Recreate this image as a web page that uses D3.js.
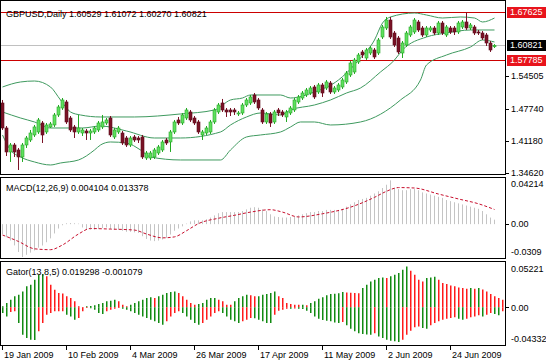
<!DOCTYPE html>
<html>
<head>
<meta charset="utf-8">
<script src="https://cdn.jsdelivr.net/npm/d3@7"></script>
<style>
  body { margin: 0; background: #fff; }
  text { font-family: "Liberation Sans", Arial, sans-serif; font-size: 9px; fill: #000; }
</style>
</head>
<body>
<div id="chart"></div>
<script>
var svgWidth = 546;
var svgHeight = 363;

// ---- data ----
var open = [1.4894,1.4379,1.3885,1.4029,1.3926,1.3782,1.4029,1.4132,1.4235,1.4297,
  1.4482,1.4297,1.4400,1.4441,1.4647,1.4791,1.4915,1.4585,1.4400,1.4297,
  1.4276,1.4317,1.4276,1.4297,1.4338,1.4400,1.4482,1.4585,1.4194,1.4297,
  1.4276,1.4173,1.4029,1.4194,1.4173,1.4194,1.3761,1.3761,1.3782,1.3864,
  1.3926,1.4132,1.4091,1.4297,1.4544,1.4482,1.4585,1.4709,1.4585,1.4503,
  1.4235,1.4276,1.4297,1.4503,1.4709,1.4894,1.4750,1.4750,1.4750,1.4668,
  1.4688,1.4853,1.4894,1.5059,1.4956,1.4750,1.4503,1.4668,1.4503,1.4750,
  1.4709,1.4606,1.4688,1.4750,1.4915,1.4997,1.5059,1.5100,1.5224,1.5121,
  1.5265,1.5203,1.5306,1.5121,1.5162,1.5224,1.5327,1.5471,1.5533,1.5739,
  1.5945,1.5821,1.5924,1.5986,1.5924,1.6254,1.6439,1.6604,1.6336,1.6233,
  1.5924,1.6089,1.6295,1.6357,1.6563,1.6439,1.6295,1.6398,1.6439,1.6336,
  1.6542,1.6295,1.6439,1.6439,1.6357,1.6460,1.6563,1.6439,1.6460,1.6357,
  1.6336,1.6295,1.6130,1.60529];
var high = [1.4956,1.4420,1.4070,1.4070,1.3967,1.4070,1.4214,1.4338,1.4441,1.4585,
  1.4523,1.4482,1.4503,1.4688,1.4853,1.4997,1.4956,1.4626,1.4441,1.4647,
  1.4379,1.4359,1.4359,1.4420,1.4523,1.4647,1.4585,1.4626,1.4379,1.4420,
  1.4317,1.4214,1.4214,1.4235,1.4214,1.4235,1.3905,1.3905,1.3967,1.4029,
  1.4132,1.4173,1.4338,1.4544,1.4606,1.4688,1.4791,1.4750,1.4626,1.4544,
  1.4338,1.4420,1.4544,1.4791,1.4894,1.4977,1.4791,1.4791,1.4791,1.4729,
  1.4894,1.4997,1.5059,1.5100,1.4997,1.4791,1.4709,1.4709,1.4750,1.4791,
  1.4750,1.4750,1.4832,1.4997,1.5059,1.5141,1.5203,1.5244,1.5265,1.5306,
  1.5306,1.5368,1.5347,1.5244,1.5306,1.5409,1.5553,1.5759,1.5821,1.5924,
  1.5986,1.6027,1.6068,1.6027,1.6233,1.6501,1.6666,1.6666,1.6377,1.6274,
  1.6171,1.6377,1.6501,1.6645,1.6604,1.6480,1.6480,1.6480,1.6480,1.6583,
  1.6583,1.6501,1.6480,1.6480,1.6583,1.6604,1.67625,1.6542,1.6501,1.6398,
  1.6377,1.6336,1.6171,1.61072];
var low = [1.4338,1.3802,1.3679,1.3782,1.3514,1.3679,1.3967,1.4091,1.4194,1.4256,
  1.4070,1.4256,1.4379,1.4400,1.4606,1.4750,1.4462,1.4297,1.4173,1.4256,
  1.4214,1.4132,1.4132,1.4256,1.4297,1.4359,1.4441,1.4194,1.4153,1.4256,
  1.4029,1.3988,1.3988,1.4091,1.4070,1.3741,1.3720,1.3720,1.3741,1.3823,
  1.3885,1.4029,1.3885,1.4256,1.4441,1.4441,1.4544,1.4503,1.4441,1.4256,
  1.4132,1.4235,1.4256,1.4462,1.4668,1.4709,1.4606,1.4626,1.4647,1.4626,
  1.4647,1.4812,1.4853,1.4874,1.4750,1.4462,1.4462,1.4400,1.4462,1.4626,
  1.4606,1.4503,1.4647,1.4709,1.4874,1.4956,1.5018,1.5059,1.4977,1.5080,
  1.5018,1.5162,1.5080,1.5080,1.5121,1.5183,1.5286,1.5430,1.5492,1.5698,
  1.5821,1.5780,1.5883,1.5801,1.5883,1.6213,1.6398,1.6213,1.6048,1.5904,
  1.5821,1.6048,1.6254,1.6316,1.6357,1.6254,1.6254,1.6357,1.6295,1.6295,
  1.6295,1.6254,1.6316,1.6295,1.6316,1.6419,1.6398,1.6398,1.6295,1.6295,
  1.6192,1.6068,1.5945,1.60270];
var close = [1.4379,1.3885,1.4029,1.3885,1.3782,1.4029,1.4173,1.4276,1.4400,1.4544,
  1.4235,1.4441,1.4462,1.4647,1.4812,1.4956,1.4503,1.4338,1.4297,1.4379,
  1.4338,1.4276,1.4317,1.4379,1.4482,1.4503,1.4544,1.4235,1.4338,1.4379,
  1.4070,1.4029,1.4173,1.4132,1.4132,1.3782,1.3864,1.3864,1.3926,1.3988,
  1.4091,1.4070,1.4297,1.4503,1.4482,1.4647,1.4750,1.4544,1.4482,1.4297,
  1.4297,1.4379,1.4503,1.4750,1.4853,1.4750,1.4709,1.4709,1.4709,1.4688,
  1.4853,1.4956,1.5018,1.4915,1.4791,1.4503,1.4668,1.4482,1.4709,1.4688,
  1.4647,1.4709,1.4791,1.4956,1.5018,1.5100,1.5162,1.5203,1.5018,1.5265,
  1.5100,1.5327,1.5121,1.5203,1.5265,1.5368,1.5512,1.5718,1.5780,1.5883,
  1.5883,1.5986,1.6027,1.5842,1.6192,1.6460,1.6604,1.6254,1.6089,1.5945,
  1.6130,1.6336,1.6460,1.6604,1.6398,1.6295,1.6439,1.6439,1.6336,1.6542,
  1.6336,1.6460,1.6357,1.6357,1.6542,1.6563,1.6439,1.6501,1.6336,1.6336,
  1.6233,1.6130,1.5986,1.60821];

// Bollinger bands, read at a few bar positions
var bbIdx    = [0, 4.5, 8, 12, 14.5, 17, 19.5, 24.5, 33, 44.5, 53, 57, 60, 62, 69.5, 72, 78, 84, 86, 89.5, 93, 95, 97, 103, 106, 110, 114.5, 118, 120, 123];
var bbUpper  = [1.5224,1.5327,1.5347,1.5224,1.4956,1.4709,1.4647,1.4606,1.4606,1.4668,1.4750,1.4956,1.4997,1.5059,1.5059,1.4997,1.5121,1.5368,1.5512,1.5821,1.6192,1.6542,1.6666,1.6748,1.6707,1.6645,1.6666,1.6645,1.6563,1.6645];
var bbMidIdx = [0, 4.5, 8, 12, 20, 24.5, 31, 38, 44.5, 54.5, 57, 61, 64.5, 69.5, 72, 78, 82, 86, 89.5, 94.5, 98, 100, 106, 111, 117, 123];
var bbMiddle = [1.4709,1.4585,1.4503,1.4379,1.4379,1.4420,1.4317,1.4173,1.4173,1.4297,1.4441,1.4606,1.4688,1.4647,1.4750,1.4853,1.4956,1.5100,1.5203,1.5533,1.5780,1.5986,1.6254,1.6336,1.6398,1.6398];
var bbLowIdx = [0, 2, 4.5, 8, 12, 14.5, 19, 23, 24.5, 27, 31, 34.5, 37, 44.5, 54.5, 57, 61, 64.5, 69.5, 72, 74.5, 78, 82, 89.5, 99.5, 104.5, 106, 111, 117, 120, 123];
var bbLower  = [1.4235,1.3926,1.3782,1.3679,1.3617,1.3658,1.3720,1.3926,1.4029,1.4091,1.4070,1.3926,1.3782,1.3720,1.3720,1.3926,1.4194,1.4235,1.4297,1.4400,1.4503,1.4503,1.4441,1.4503,1.4956,1.5368,1.5677,1.5883,1.6048,1.6192,1.6151];

var macdMain = [-0.0090,-0.0119,-0.0149,-0.0194,-0.0254,-0.0300,-0.0280,-0.0260,-0.0240,-0.0215,
  -0.0195,-0.0165,-0.0130,-0.0085,-0.0040,-0.0010,0.0008,0.0010,0.0008,0.0005,
  -0.0030,-0.0045,-0.0050,-0.0050,-0.0045,-0.0035,-0.0030,-0.0045,-0.0050,-0.0050,
  -0.0060,-0.0070,-0.0070,-0.0075,-0.0080,-0.0110,-0.0135,-0.0150,-0.0155,-0.0150,
  -0.0140,-0.0125,-0.0095,-0.0060,-0.0040,-0.0020,0.0005,0.0025,0.0035,0.0035,
  0.0035,0.0045,0.0060,0.0080,0.0100,0.0110,0.0110,0.0110,0.0110,0.0110,
  0.0120,0.0135,0.0150,0.0155,0.0150,0.0135,0.0120,0.0090,0.0070,0.0065,
  0.0060,0.0060,0.0065,0.0070,0.0080,0.0090,0.0100,0.0110,0.0110,0.0120,
  0.0120,0.0130,0.0130,0.0130,0.0130,0.0140,0.0160,0.0180,0.0200,0.0220,
  0.0230,0.0240,0.0260,0.0280,0.0300,0.0330,0.0360,0.0400,0.0330,0.0320,
  0.0310,0.0310,0.0320,0.0320,0.0310,0.0290,0.0280,0.0270,0.0260,0.0250,
  0.0240,0.0220,0.0210,0.0200,0.0190,0.0180,0.0170,0.0160,0.0150,0.0140,
  0.0120,0.0090,0.0060,0.004104];
var sigIdx = [0, 4, 8, 12, 15, 19, 22, 27, 33, 36, 40, 43, 46, 49, 54, 58, 62, 67, 70, 74, 80, 87, 93, 96, 99, 103, 109, 114, 119, 123];
var sigVal = [-0.0099,-0.0158,-0.0225,-0.0233,-0.0190,-0.0090,-0.0040,-0.0045,-0.0054,-0.0090,-0.0125,-0.0116,-0.0060,0.0005,0.0054,0.0081,0.0110,0.0132,0.0110,0.0066,0.0095,0.0155,0.0245,0.0300,0.0334,0.0330,0.0275,0.0230,0.0186,0.013378];

var gatorUp = [0.0012,0.0050,0.0088,0.0127,0.0146,0.0184,0.0242,0.0261,0.0319,0.0376,
  0.0380,0.0357,0.0261,0.0203,0.0165,0.0160,0.0127,0.0107,0.0069,0.0012,
  0.0004,0.0012,0.0015,0.0023,0.0038,0.0050,0.0069,0.0077,0.0088,0.0069,
  0.0031,0.0012,0.0031,0.0050,0.0069,0.0088,0.0107,0.0115,0.0107,0.0127,
  0.0146,0.0165,0.0176,0.0184,0.0165,0.0127,0.0088,0.0050,0.0031,0.0038,
  0.0050,0.0088,0.0107,0.0109,0.0088,0.0069,0.0031,0.0030,0.0069,0.0107,
  0.0127,0.0146,0.0138,0.0127,0.0128,0.0146,0.0153,0.0165,
  0.0184,0.0127,0.0107,0.0050,0.0038,0.0031,0.0030,0.0031,0.0023,0.0050,
  0.0069,0.0100,0.0115,0.0138,0.0153,0.0157,0.0161,0.0176,0.0172,0.0169,
  0.0165,0.0161,0.0222,0.0261,0.0299,0.0319,0.0338,0.0345,0.0338,0.0357,
  0.0376,0.0395,0.0434,0.0470,0.0422,0.0376,0.0319,0.0299,0.0338,0.0345,
  0.0353,0.0319,0.0280,0.0269,0.0253,0.0242,0.0230,0.0222,0.0215,0.0222,
  0.0215,0.0222,0.0207,0.0184,0.0153,0.0127,0.0107,0.0088];
var gatorDown = [-0.0065,-0.0104,-0.0054,-0.0046,-0.0180,-0.0315,-0.0353,-0.0372,-0.0375,-0.0276,
  -0.0180,-0.0084,-0.0065,-0.0046,-0.0045,-0.0044,-0.0084,-0.0104,-0.0142,-0.0123,
  -0.0046,-0.0008,-0.0009,-0.0027,-0.0065,-0.0077,-0.0046,-0.0027,-0.0015,-0.0008,
  -0.0015,-0.0027,-0.0046,-0.0065,-0.0084,-0.0104,-0.0123,-0.0142,-0.0161,-0.0180,
  -0.0200,-0.0161,-0.0104,-0.0065,-0.0046,-0.0065,-0.0104,-0.0142,-0.0180,-0.0200,
  -0.0180,-0.0142,-0.0104,-0.0065,-0.0046,-0.0065,-0.0104,-0.0142,-0.0161,-0.0180,
  -0.0161,-0.0142,-0.0123,-0.0124,-0.0142,-0.0161,-0.0180,-0.0181,
  -0.0084,-0.0038,-0.0027,-0.0015,-0.0016,-0.0012,-0.0015,-0.0019,-0.0038,-0.0065,
  -0.0104,-0.0130,-0.0146,-0.0153,-0.0161,-0.0173,-0.0180,-0.0169,-0.0207,-0.0246,
  -0.0276,-0.0299,-0.0307,-0.0311,-0.0315,-0.0299,-0.0334,-0.0353,-0.0372,-0.0384,
  -0.0391,-0.0399,-0.0372,-0.0315,-0.0269,-0.0230,-0.0219,-0.0238,-0.0246,-0.0207,
  -0.0180,-0.0161,-0.0142,-0.0130,-0.0123,-0.0115,-0.0130,-0.0142,-0.0130,-0.0115,
  -0.0104,-0.0092,-0.0104,-0.0084,-0.0065,-0.0077,-0.0092,-0.0046];

var dateTickIdx = [0, 16, 32, 48, 64, 80, 96, 112];
var dateLabels = ["19 Jan 2009", "10 Feb 2009", "4 Mar 2009", "26 Mar 2009", "17 Apr 2009", "11 May 2009", "2 Jun 2009", "24 Jun 2009"];
var priceTicks = [1.54505, 1.47740, 1.41180, 1.34620];
var priceLines = [1.67625, 1.57785];
var lastPrice = 1.60821;
var macdRange = [-0.0309, 0.04214];
var gatorRange = [-0.04332, 0.05221];

// ---- layout ----
var plotRight = 505;
var mainP = { top: 0, bottom: 175 };
var macdP = { top: 177, bottom: 259 };
var gatorP = { top: 261, bottom: 346 };

var svg = d3.select("#chart")
  .append("svg")
  .attr("width", svgWidth)
  .attr("height", svgHeight)
  .style("display", "block");

svg.append("rect")
  .attr("width", svgWidth)
  .attr("height", svgHeight)
  .attr("fill", "#fff");

var x = d3.scaleLinear().domain([0, 1]).range([2, 6]);
var yMain = d3.scaleLinear().domain([1.3462, 1.67625]).range([172.5, 12.3]);
var yMacd = d3.scaleLinear().domain(macdRange).range([258, 178]);
var yGator = d3.scaleLinear().domain(gatorRange).range([345, 262]);

var defs = svg.append("defs");
[["clipMain", mainP], ["clipMacd", macdP], ["clipGator", gatorP]].forEach(function(c) {
  defs.append("clipPath").attr("id", c[0])
    .append("rect")
    .attr("x", 1).attr("y", c[1].top + 1)
    .attr("width", plotRight - 1).attr("height", c[1].bottom - c[1].top - 1);
});

// ---- main panel ----
var main = svg.append("g").attr("clip-path", "url(#clipMain)");

main.append("line")
  .attr("x1", 0).attr("x2", plotRight)
  .attr("y1", Math.round(yMain(lastPrice)) + 0.5).attr("y2", Math.round(yMain(lastPrice)) + 0.5)
  .attr("stroke", "#c0c0c0");

main.selectAll(".hline")
  .data(priceLines)
  .enter()
  .append("line")
  .attr("x1", 0).attr("x2", plotRight)
  .attr("y1", d => Math.round(yMain(d)) + 0.5)
  .attr("y2", d => Math.round(yMain(d)) + 0.5)
  .attr("stroke", "#cc0000");

function band(idx, vals) {
  return d3.line()
    .x((d, i) => x(idx[i]) + 0.5)
    .y(d => yMain(d))
    .curve(d3.curveMonotoneX)(vals);
}
[[bbIdx, bbUpper], [bbMidIdx, bbMiddle], [bbLowIdx, bbLower]].forEach(function(b) {
  main.append("path")
    .attr("d", band(b[0], b[1]))
    .attr("fill", "none")
    .attr("stroke", "#3f9a5f")
    .attr("stroke-width", 1);
});

var candles = main.selectAll(".candle")
  .data(close)
  .enter()
  .append("g");

candles.append("line")
  .attr("x1", (d, i) => x(i) + 0.5)
  .attr("x2", (d, i) => x(i) + 0.5)
  .attr("y1", (d, i) => yMain(high[i]))
  .attr("y2", (d, i) => yMain(low[i]))
  .attr("stroke", (d, i) => close[i] >= open[i] ? "#22aa22" : "#7a1226");

candles.append("rect")
  .attr("x", (d, i) => x(i) - 1)
  .attr("width", 3)
  .attr("y", (d, i) => yMain(Math.max(open[i], close[i])))
  .attr("height", (d, i) => Math.max(1, Math.abs(yMain(open[i]) - yMain(close[i]))))
  .attr("fill", (d, i) => close[i] >= open[i] ? "#5ee05e" : "#7a1226")
  .attr("stroke", (d, i) => close[i] >= open[i] ? "#2aa52a" : "#5a0c1a")
  .attr("stroke-width", 0.6);

svg.append("text")
  .attr("x", 6).attr("y", 17)
  .text("GBPUSD,Daily  1.60529 1.61072 1.60270 1.60821");

// ---- MACD panel ----
var macdG = svg.append("g").attr("clip-path", "url(#clipMacd)");
macdG.selectAll("line")
  .data(macdMain)
  .enter()
  .append("line")
  .attr("x1", (d, i) => x(i) + 0.5)
  .attr("x2", (d, i) => x(i) + 0.5)
  .attr("y1", yMacd(0))
  .attr("y2", d => yMacd(d))
  .attr("stroke", "#c4c4c4");

macdG.append("path")
  .attr("d", d3.line()
    .x((d, i) => x(sigIdx[i]) + 0.5)
    .y(d => yMacd(d))
    .curve(d3.curveMonotoneX)(sigVal))
  .attr("fill", "none")
  .attr("stroke", "#c8102e")
  .attr("stroke-dasharray", "3,2");

svg.append("text")
  .attr("x", 6).attr("y", 191)
  .text("MACD(12,26,9) 0.004104 0.013378");

// ---- Gator panel ----
var gatorG = svg.append("g").attr("clip-path", "url(#clipGator)");
gatorG.selectAll(".gu")
  .data(gatorUp)
  .enter()
  .append("line")
  .attr("x1", (d, i) => x(i) + 0.75)
  .attr("x2", (d, i) => x(i) + 0.75)
  .attr("y1", yGator(0))
  .attr("y2", d => yGator(d))
  .attr("stroke-width", 1.5)
  .attr("stroke", (d, i) => (i == 0 || d >= gatorUp[i - 1]) ? "#118a11" : "#ff1a1a");

gatorG.selectAll(".gd")
  .data(gatorDown)
  .enter()
  .append("line")
  .attr("x1", (d, i) => x(i) + 0.75)
  .attr("x2", (d, i) => x(i) + 0.75)
  .attr("y1", yGator(0))
  .attr("y2", d => yGator(d))
  .attr("stroke-width", 1.5)
  .attr("stroke", (d, i) => (i == 0 || d <= gatorDown[i - 1]) ? "#118a11" : "#ff1a1a");

svg.append("text")
  .attr("x", 6).attr("y", 275)
  .text("Gator(13,8,5) 0.019298 -0.001079");

// ---- panel frames ----
[mainP, macdP, gatorP].forEach(function(p) {
  svg.append("rect")
    .attr("x", 0.5).attr("y", p.top + 0.5)
    .attr("width", plotRight).attr("height", p.bottom - p.top - 1)
    .attr("fill", "none")
    .attr("stroke", "#000");
});

// ---- right axes ----
var axisG = svg.append("g");

function tick(y, label) {
  var yy = Math.round(y) + 0.5;
  axisG.append("line")
    .attr("x1", plotRight).attr("x2", plotRight + 4)
    .attr("y1", yy).attr("y2", yy)
    .attr("stroke", "#000");
  axisG.append("text")
    .attr("x", plotRight + 6).attr("y", y)
    .attr("dy", "0.35em")
    .text(label);
}

priceTicks.forEach(d => tick(yMain(d), d3.format(".5f")(d)));

function boxLabel(v, color) {
  var y = yMain(v);
  axisG.append("rect")
    .attr("x", plotRight + 2).attr("y", Math.round(y) - 5)
    .attr("width", svgWidth - plotRight - 2).attr("height", 11)
    .attr("fill", color);
  axisG.append("text")
    .attr("x", plotRight + 5).attr("y", y)
    .attr("dy", "0.35em")
    .style("fill", "#fff")
    .text(d3.format(".5f")(v));
}
priceLines.forEach(d => boxLabel(d, "#e8141c"));
boxLabel(lastPrice, "#000");

// MACD labels
axisG.append("text").attr("x", plotRight + 6).attr("y", 184).attr("dy", "0.35em").text("0.04214");
tick(yMacd(0), "0.00");
axisG.append("text").attr("x", plotRight + 6).attr("y", 252).attr("dy", "0.35em").text("-0.0309");

// Gator labels
axisG.append("text").attr("x", plotRight + 6).attr("y", 269).attr("dy", "0.35em").text("0.05221");
tick(yGator(0), "0.00");
axisG.append("text").attr("x", plotRight + 6).attr("y", 339).attr("dy", "0.35em").text("-0.04332");

// ---- date axis ----
var dateG = svg.append("g");
dateG.selectAll("line")
  .data(dateTickIdx)
  .enter()
  .append("line")
  .attr("x1", d => x(d) + 0.5).attr("x2", d => x(d) + 0.5)
  .attr("y1", gatorP.bottom).attr("y2", gatorP.bottom + 4)
  .attr("stroke", "#000");
dateG.selectAll("text")
  .data(dateTickIdx)
  .enter()
  .append("text")
  .attr("x", d => x(d) + 2)
  .attr("y", 358)
  .text((d, i) => dateLabels[i]);
</script>
</body>
</html>
